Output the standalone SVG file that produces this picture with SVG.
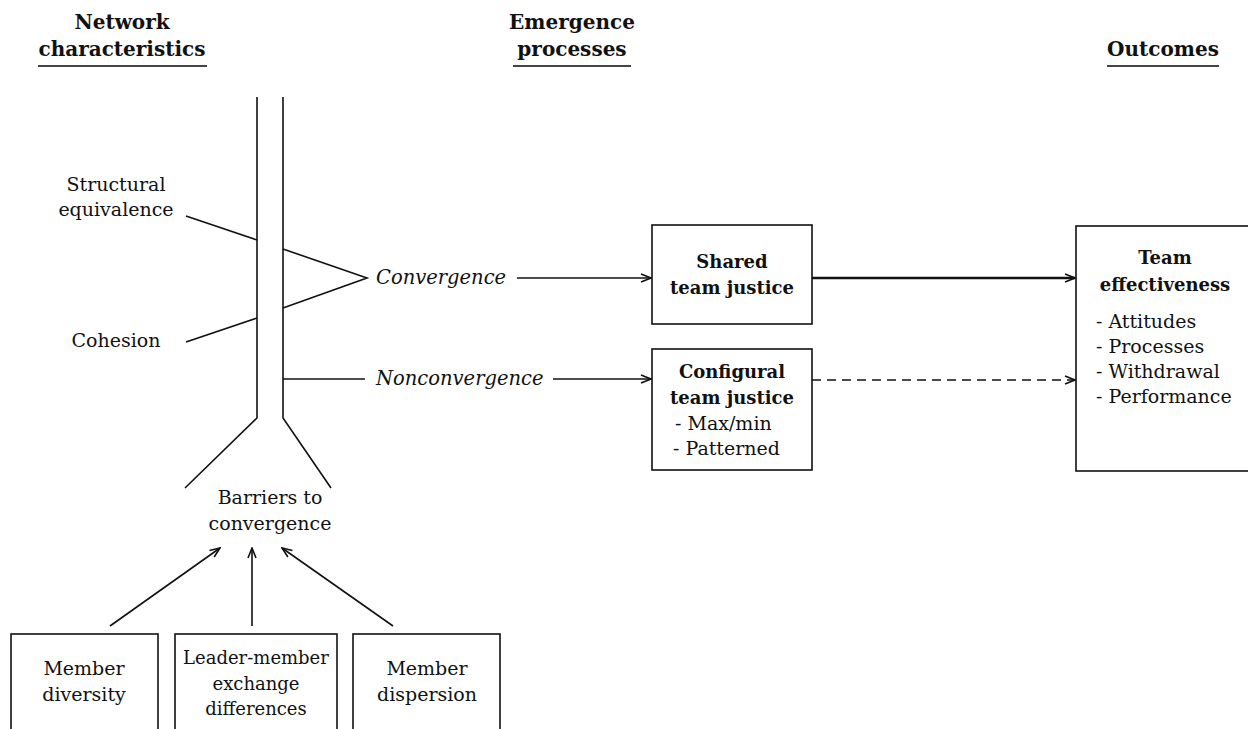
<svg xmlns="http://www.w3.org/2000/svg" width="1248" height="729" viewBox="0 0 1248 729">
<defs>
<style>
text{font-family:"DejaVu Serif","Liberation Serif",serif;font-size:19px;fill:#111}
.b{font-weight:bold;font-size:18px}
.h{font-weight:bold;font-size:20px}
.i{font-style:italic;font-size:19.5px}
.s{font-size:18px}
.c{text-anchor:middle}
.ln{stroke:#111;stroke-width:1.6;fill:none}
.box{stroke:#111;stroke-width:1.6;fill:#fff}
.ul{stroke:#444;stroke-width:1.8}
</style>
<marker id="ah" viewBox="0 0 12 10" refX="11" refY="5" markerWidth="12" markerHeight="10" markerUnits="userSpaceOnUse" orient="auto">
<path d="M1,1 L11,5 L1,9" fill="none" stroke="#111" stroke-width="1.6"/>
</marker>
</defs>

<g id="headers">
<text class="h c" x="122" y="29">Network</text>
<text class="h c" x="122" y="56">characteristics</text>
<line class="ul" x1="38" y1="66" x2="207" y2="66"/>
<text class="h c" x="572" y="29">Emergence</text>
<text class="h c" x="572" y="56">processes</text>
<line class="ul" x1="513" y1="66" x2="631" y2="66"/>
<text class="h c" x="1163" y="56">Outcomes</text>
<line class="ul" x1="1107" y1="66" x2="1219" y2="66"/>
</g>

<g id="network">
<path class="ln" d="M257,97 V418 L185,488"/>
<path class="ln" d="M283,97 V418 L331,488"/>
<line class="ln" x1="186" y1="216" x2="257" y2="240"/>
<line class="ln" x1="186" y1="342" x2="257" y2="318"/>
<path class="ln" d="M283,249 L367,278 L283,308"/>
<line class="ln" x1="283" y1="379" x2="365" y2="379"/>
</g>

<g id="structural-equivalence">
<text class="c" x="116" y="191">Structural</text>
<text class="c" x="116" y="216">equivalence</text>
</g>
<g id="cohesion">
<text class="c" x="116" y="347">Cohesion</text>
</g>
<g id="convergence">
<text class="i" x="376" y="284">Convergence</text>
</g>
<g id="nonconvergence">
<text class="i" x="376" y="385">Nonconvergence</text>
</g>
<g id="barriers">
<text class="c" x="270" y="504">Barriers to</text>
<text class="c" x="270" y="530">convergence</text>
</g>

<g id="shared">
<rect class="box" x="652" y="225" width="160" height="99"/>
<text class="b c" x="732" y="268">Shared</text>
<text class="b c" x="732" y="294">team justice</text>
</g>

<g id="configural">
<rect class="box" x="652" y="349" width="160" height="121"/>
<text class="b c" x="732" y="378">Configural</text>
<text class="b c" x="732" y="404">team justice</text>
<text x="675" y="430">- Max/min</text>
<text x="673" y="455">- Patterned</text>
</g>

<g id="team-effectiveness">
<rect class="box" x="1076" y="226" width="180" height="245"/>
<text class="b c" x="1165" y="264">Team</text>
<text class="b c" x="1165" y="291">effectiveness</text>
<text x="1096" y="328">- Attitudes</text>
<text x="1096" y="353">- Processes</text>
<text x="1096" y="378">- Withdrawal</text>
<text x="1096" y="403">- Performance</text>
</g>

<g id="member-diversity">
<rect class="box" x="11" y="634" width="147" height="110"/>
<text class="c" x="84" y="675">Member</text>
<text class="c" x="84" y="701">diversity</text>
</g>
<g id="lmx">
<rect class="box" x="175" y="634" width="162" height="110"/>
<text class="c s" x="256" y="664">Leader-member</text>
<text class="c s" x="256" y="690">exchange</text>
<text class="c s" x="256" y="715">differences</text>
</g>
<g id="member-dispersion">
<rect class="box" x="353" y="634" width="147" height="110"/>
<text class="c" x="427" y="675">Member</text>
<text class="c" x="427" y="701">dispersion</text>
</g>

<g id="connectors">
<line class="ln" x1="517" y1="278" x2="651" y2="278" marker-end="url(#ah)"/>
<line class="ln" x1="553" y1="379" x2="651" y2="379" marker-end="url(#ah)"/>
<line class="ln" x1="812" y1="278" x2="1075" y2="278" style="stroke-width:2.6" marker-end="url(#ah)"/>
<line class="ln" x1="812" y1="380" x2="1075" y2="380" stroke-dasharray="9,6" marker-end="url(#ah)"/>
<line class="ln" x1="110" y1="626" x2="220" y2="548" marker-end="url(#ah)"/>
<line class="ln" x1="252" y1="626" x2="252" y2="548" marker-end="url(#ah)"/>
<line class="ln" x1="393" y1="626" x2="282" y2="548" marker-end="url(#ah)"/>
</g>
</svg>
